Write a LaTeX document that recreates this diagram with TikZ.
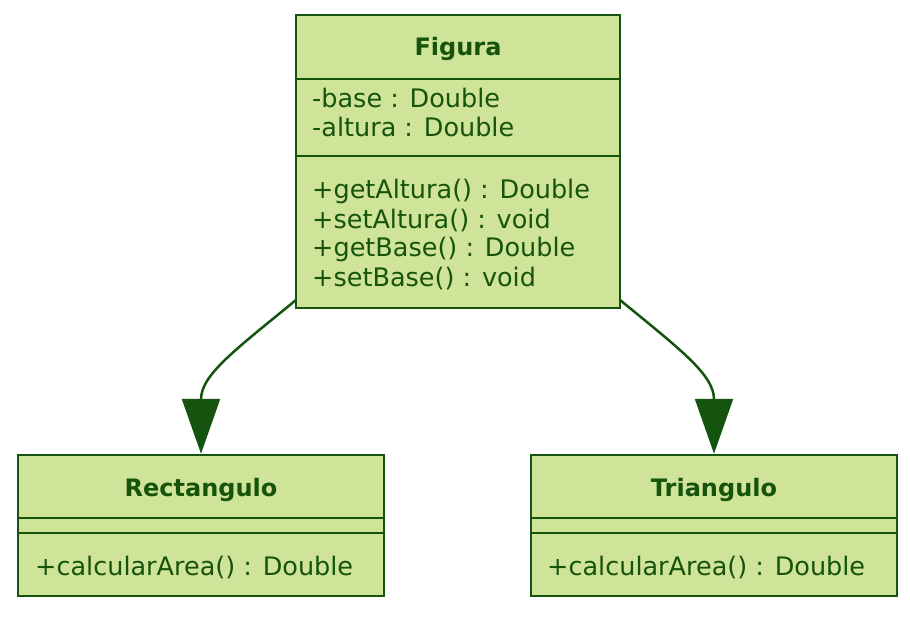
\documentclass[tikz,border=0pt]{standalone}
\usepackage{fontspec}
\setmainfont{DejaVu Sans}
\usetikzlibrary{arrows.meta}
\definecolor{umlfill}{RGB}{207,227,153}
\definecolor{umldraw}{RGB}{20,84,14}
\definecolor{umltext}{RGB}{22,84,12}
\tikzset{
  classbox/.style={draw=umldraw, fill=umlfill, line width=2.5pt, inner sep=0pt},
  divider/.style={draw=umldraw, line width=2.5pt},
  title/.style={font=\fontsize{24}{28}\selectfont\bfseries, text=umltext, inner sep=0pt},
  member/.style={font=\fontsize{25.5}{28}\selectfont, text=umltext, anchor=west, inner sep=0pt},
  inherit/.style={draw=umldraw, line width=2.5pt, -{Triangle[length=55pt,width=38pt,fill=umldraw]}},
}
\begin{document}
\begin{tikzpicture}[x=1pt,y=-1pt]
\useasboundingbox (0,0) rectangle (910,616);
% Figura
\node[classbox, minimum width=324pt, minimum height=293pt] (fig) at (458,161.5) {};
\draw[divider] (296,79) -- (620,79);
\draw[divider] (296,156) -- (620,156);
\node[title] (figt) at (458,49) {Figura};
\node[member] (fa1) at (312,98) {-base : Double};
\node[member] (fa2) at (312,127) {-altura : Double};
\node[member] (fm1) at (312,191) {+getAltura() : Double};
\node[member] (fm2) at (312,220) {+setAltura() : void};
\node[member] (fm3) at (312,249) {+getBase() : Double};
\node[member] (fm4) at (312,278) {+setBase() : void};
% Rectangulo
\node[classbox, minimum width=366pt, minimum height=141pt] (rect) at (201,525.5) {};
\draw[divider] (18,518) -- (384,518);
\draw[divider] (18,533) -- (384,533);
\node[title] (rectt) at (201,490) {Rectangulo};
\node[member] (rm1) at (35,567) {+calcularArea() : Double};
% Triangulo
\node[classbox, minimum width=366pt, minimum height=141pt] (tri) at (714,525.5) {};
\draw[divider] (531,518) -- (897,518);
\draw[divider] (531,533) -- (897,533);
\node[title] (trit) at (714,490) {Triangulo};
\node[member] (tm1) at (547,567) {+calcularArea() : Double};
% connectors
\coordinate (fl) at (296,300);
\draw[inherit] (fl) .. controls (235,350) and (201,375) .. (rect.north);
\coordinate (fr) at (620,300);
\draw[inherit] (fr) .. controls (681,350) and (714,375) .. (tri.north);
\end{tikzpicture}
\end{document}
